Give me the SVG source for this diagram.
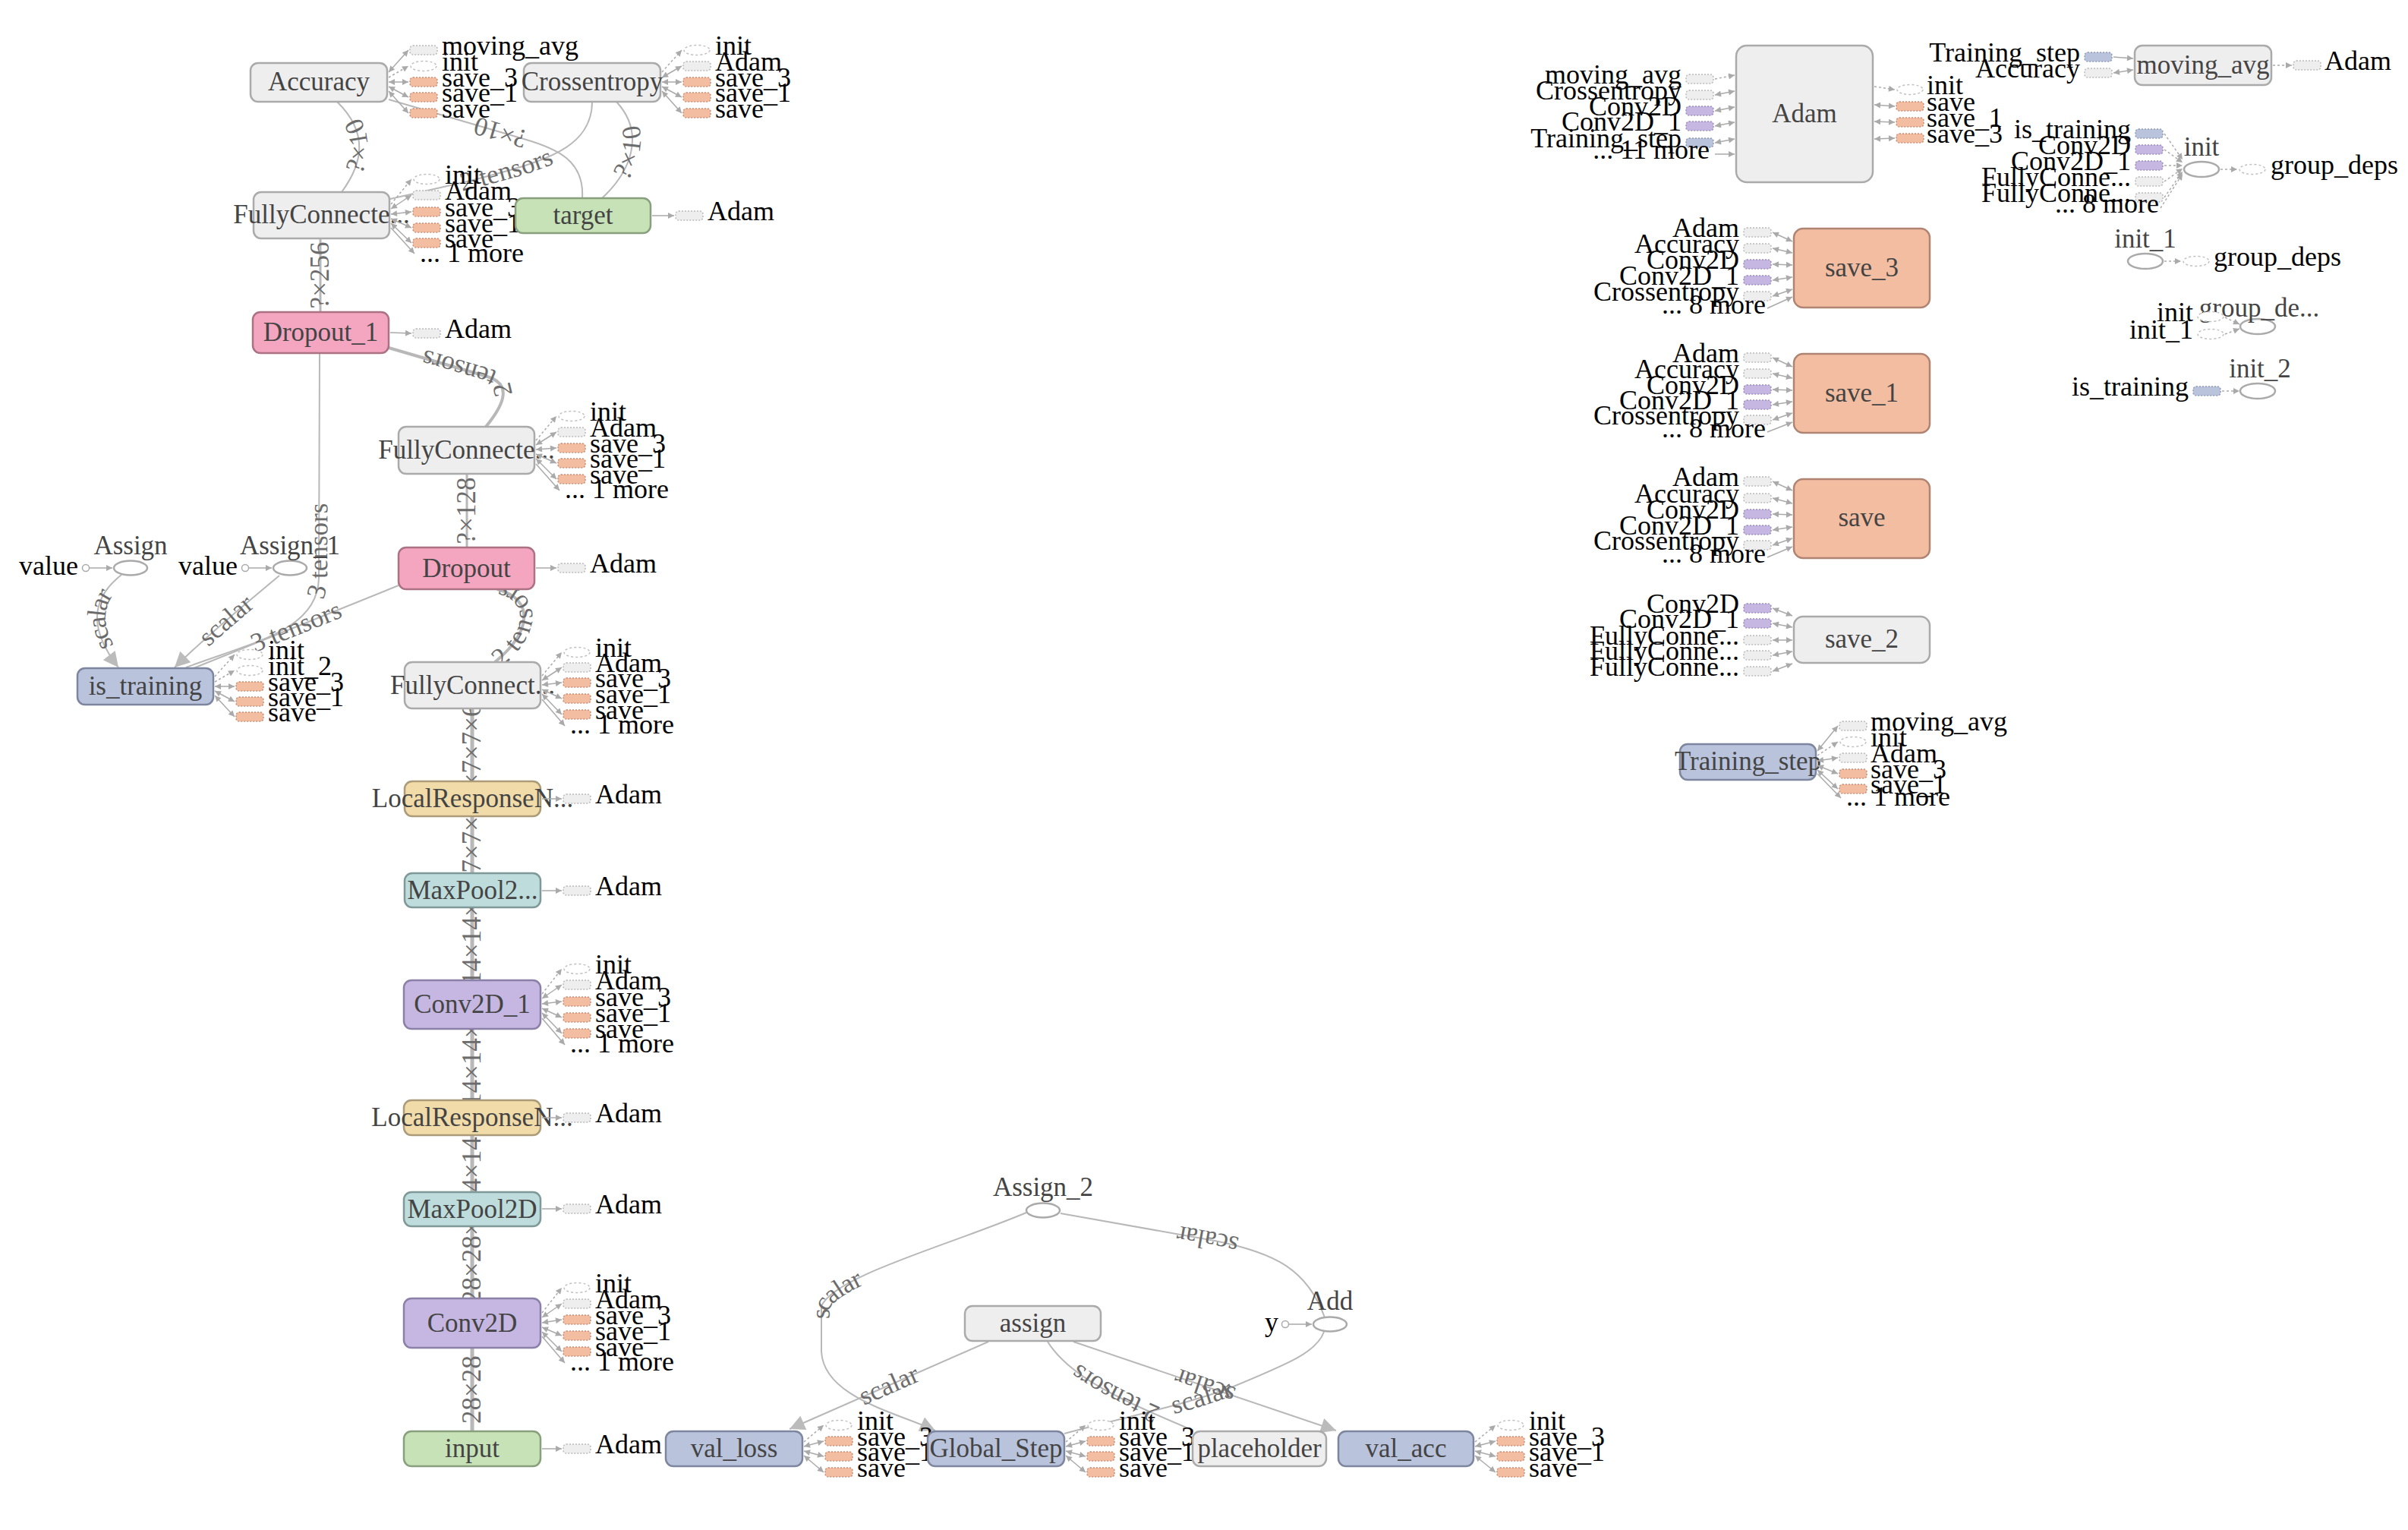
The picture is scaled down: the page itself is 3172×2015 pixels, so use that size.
<svg xmlns="http://www.w3.org/2000/svg" width="3172" height="2015" viewBox="0 0 3172 2015">
<style>
text{font-family:"Liberation Serif","Times New Roman",serif}
.nl{font-size:35px;fill:#444;text-anchor:middle}
.a{font-size:36px;fill:#000}
.ar{font-size:36px;fill:#000;text-anchor:end}
.el{font-size:35px;fill:#6c6c6c;text-anchor:middle}
.nd{stroke-width:2.5}
.g{fill:#eee;stroke:#aaa}
.pk{fill:#f4a6c1;stroke:#aa7282}
.bl{fill:#b9c3dc;stroke:#7d869e}
.gr{fill:#c6e2b6;stroke:#88a07d}
.yl{fill:#f0dba9;stroke:#ab9b78}
.tl{fill:#bddcdb;stroke:#7f9998}
.pu{fill:#c5b7e1;stroke:#8b80a7}
.or{fill:#f3bda1;stroke:#b08473}
.ov{fill:#fff;stroke:#aaa;stroke-width:2.5}
.e{fill:none;stroke:#b8b8b8;stroke-width:2}
.e3{stroke-width:3}
.e4{stroke-width:4}
.e5{stroke-width:5}
.rs{marker-start:url(#B)}
.l{stroke:#aaa;stroke-width:1.5;fill:none}
.lb{marker-start:url(#s);marker-end:url(#s)}
.lo{marker-end:url(#s)}
.ld{stroke-dasharray:3 3;marker-end:url(#s)}
.ag{fill:#eee;stroke:#bbb;stroke-width:1.5;stroke-dasharray:2 2}
.ao{fill:#f3bda1;stroke:#c99079;stroke-width:1.5;stroke-dasharray:2 2}
.ap{fill:#c5b7e1;stroke:#9d90c0;stroke-width:1.5;stroke-dasharray:2 2}
.ab{fill:#b9c3dc;stroke:#929cb5;stroke-width:1.5;stroke-dasharray:2 2}
.ae{fill:#fff;stroke:#c0c0c0;stroke-width:1.5;stroke-dasharray:3 3}
</style>
<defs>
<marker id="s" viewBox="0 0 10 10" refX="10" refY="5" markerWidth="9" markerHeight="8" markerUnits="userSpaceOnUse" orient="auto-start-reverse"><path d="M0,0L10,5L0,10z" fill="#aaa"/></marker>
<marker id="B" viewBox="0 0 10 10" refX="10" refY="5" markerWidth="24" markerHeight="20" markerUnits="userSpaceOnUse" orient="auto-start-reverse"><path d="M0,0L10,5L0,10z" fill="#bbb"/></marker>
<rect id="rg" class="ag" width="36" height="12" rx="4"/>
<rect id="ro" class="ao" width="36" height="12" rx="4"/>
<rect id="rp" class="ap" width="36" height="12" rx="4"/>
<rect id="rb" class="ab" width="36" height="12" rx="4"/>
<ellipse id="re" class="ae" cx="18" cy="6" rx="17" ry="6.5"/>
</defs>
<rect width="3172" height="2015" fill="#fff"/>

<g id="edges">
<path id="c1" class="e e5" d="M622,1925L622,1735"/>
<path id="c2" class="e e5" d="M622,1750L622,1575"/>
<path id="c3" class="e e5" d="M622,1610L622,1455"/>
<path id="c4" class="e e5" d="M622,1490L622,1315"/>
<path id="c5" class="e e5" d="M622,1330L622,1155"/>
<path id="c6" class="e e5" d="M622,1190L622,1035"/>
<path id="c7" class="e e5" d="M622,1069L622,894"/>
<path id="e1" class="e" d="M450,253C478,215 486,175 444,134"/>
<path id="e2" class="e" d="M767,261C770,212 735,196 690,183L512,131"/>
<path id="e3" class="e" d="M514,262L620,238C705,215 780,200 780,134"/>
<path id="e4" class="e" d="M793,261C832,225 850,175 812,134"/>
<path id="e5" class="e e3" d="M422,411L422,314"/>
<path id="e6" class="e e4" d="M640,562C668,528 672,505 642,496L512,458"/>
<path id="e7" class="e e3" d="M615,721L615,624"/>
<path id="e8" class="e e4" d="M652,872C700,832 705,790 655,776"/>
<path id="e9" class="e" d="M245,879C335,845 420,830 420,760L421,465"/>
<path id="e10" class="e" d="M255,880L525,771"/>
<path id="e11" class="e rs" d="M156,879C118,830 118,790 160,757"/>
<path id="e12" class="e rs" d="M230,879C280,830 330,790 368,758"/>
<path id="b1" class="e rs" d="M1232,1884C1180,1860 1085,1840 1082,1780L1082,1720C1100,1680 1250,1640 1352,1597"/>
<path id="b2" class="e" d="M1745,1735C1722,1672 1680,1650 1600,1634L1397,1598"/>
<path id="b3" class="e" d="M1402,1888C1500,1862 1560,1850 1620,1828C1700,1795 1735,1780 1744,1754"/>
<path id="b4" class="e rs" d="M1040,1882L1302,1767"/>
<path id="b5" class="e rs" d="M1760,1884L1414,1767"/>
<path id="b6" class="e" d="M1572,1884C1480,1845 1410,1815 1380,1767"/>
<text class="el" dy="11"><textPath href="#c1" startOffset="50%">28×28</textPath></text>
<text class="el" dy="11"><textPath href="#c2" startOffset="50%">?×28×28×32</textPath></text>
<text class="el" dy="11"><textPath href="#c3" startOffset="50%">?×14×14×32</textPath></text>
<text class="el" dy="11"><textPath href="#c4" startOffset="50%">?×14×14×32</textPath></text>
<text class="el" dy="11"><textPath href="#c5" startOffset="50%">?×14×14×64</textPath></text>
<text class="el" dy="11"><textPath href="#c6" startOffset="50%">?×7×7×64</textPath></text>
<text class="el" dy="11"><textPath href="#c7" startOffset="50%">?×7×7×64</textPath></text>
<text class="el" dy="11"><textPath href="#e1" startOffset="50%">?×10</textPath></text>
<text class="el" dy="11"><textPath href="#e2" startOffset="50%">?×10</textPath></text>
<text class="el" dy="11"><textPath href="#e3" startOffset="50%">2 tensors</textPath></text>
<text class="el" dy="11"><textPath href="#e4" startOffset="50%">?×10</textPath></text>
<text class="el" dy="11"><textPath href="#e5" startOffset="50%">?×256</textPath></text>
<text class="el" dy="11"><textPath href="#e6" startOffset="50%">2 tensors</textPath></text>
<text class="el" dy="11"><textPath href="#e7" startOffset="50%">?×128</textPath></text>
<text class="el" dy="11"><textPath href="#e8" startOffset="50%">2 tensors</textPath></text>
<text class="el" dy="11"><textPath href="#e9" startOffset="50%">3 tensors</textPath></text>
<text class="el" dy="11"><textPath href="#e10" startOffset="50%">3 tensors</textPath></text>
<text class="el" dy="11"><textPath href="#e11" startOffset="50%">scalar</textPath></text>
<text class="el" dy="11"><textPath href="#e12" startOffset="50%">scalar</textPath></text>
<text class="el" dy="11"><textPath href="#b1" startOffset="50%">scalar</textPath></text>
<text class="el" dy="11"><textPath href="#b2" startOffset="50%">scalar</textPath></text>
<text class="el" dy="11"><textPath href="#b3" startOffset="50%">scalar</textPath></text>
<text class="el" dy="11"><textPath href="#b4" startOffset="50%">scalar</textPath></text>
<text class="el" dy="11"><textPath href="#b5" startOffset="50%">scalar</textPath></text>
<text class="el" dy="11"><textPath href="#b6" startOffset="50%">2 tensors</textPath></text>
</g>

<g id="n-accuracy">
<rect class="nd g" x="330" y="83" width="180" height="51" rx="10"/>
<text class="nl" x="420" y="119">Accuracy</text>
<line class="l lb" x1="512" y1="95" x2="538" y2="66"/>
<line class="l ld" x1="512" y1="102" x2="538" y2="87"/>
<line class="l lb" x1="512" y1="108" x2="538" y2="108"/>
<line class="l lb" x1="512" y1="114" x2="538" y2="128"/>
<line class="l lb" x1="512" y1="120" x2="538" y2="149"/>
<use href="#rg" x="540" y="60"/><use href="#re" x="540" y="81"/><use href="#ro" x="540" y="102"/><use href="#ro" x="540" y="122"/><use href="#ro" x="540" y="143"/>
<text class="a" x="582" y="72">moving_avg</text><text class="a" x="582" y="93">init</text><text class="a" x="582" y="114">save_3</text><text class="a" x="582" y="134">save_1</text><text class="a" x="582" y="155">save</text>
</g>

<g id="n-crossentropy">
<rect class="nd g" x="690" y="83" width="180" height="51" rx="10"/>
<text class="nl" x="780" y="119">Crossentropy</text>
<line class="l ld" x1="872" y1="95" x2="898" y2="66"/>
<line class="l lb" x1="872" y1="102" x2="898" y2="87"/>
<line class="l lb" x1="872" y1="108" x2="898" y2="108"/>
<line class="l lb" x1="872" y1="114" x2="898" y2="128"/>
<line class="l lb" x1="872" y1="120" x2="898" y2="149"/>
<use href="#re" x="900" y="60"/><use href="#rg" x="900" y="81"/><use href="#ro" x="900" y="102"/><use href="#ro" x="900" y="122"/><use href="#ro" x="900" y="143"/>
<text class="a" x="942" y="72">init</text><text class="a" x="942" y="93">Adam</text><text class="a" x="942" y="114">save_3</text><text class="a" x="942" y="134">save_1</text><text class="a" x="942" y="155">save</text>
</g>

<g id="n-fc-top">
<rect class="nd g" x="334" y="253" width="179" height="61" rx="10"/>
<text class="nl" x="423.5" y="294">FullyConnecte...</text>
<line class="l ld" x1="515" y1="269" x2="542" y2="236"/>
<line class="l lb" x1="515" y1="275" x2="542" y2="257"/>
<line class="l lb" x1="515" y1="282" x2="542" y2="279"/>
<line class="l lb" x1="515" y1="288" x2="542" y2="300"/>
<line class="l lb" x1="515" y1="294" x2="542" y2="320"/>
<line class="l lo" x1="515" y1="300" x2="546" y2="334"/>
<use href="#re" x="544" y="230"/><use href="#rg" x="544" y="251"/><use href="#ro" x="544" y="273"/><use href="#ro" x="544" y="294"/><use href="#ro" x="544" y="314"/>
<text class="a" x="586" y="242">init</text><text class="a" x="586" y="263">Adam</text><text class="a" x="586" y="285">save_3</text><text class="a" x="586" y="306">save_1</text><text class="a" x="586" y="326">save</text><text class="a" x="553" y="345">... 1 more</text>
</g>

<g id="n-target">
<rect class="nd gr" x="679" y="261" width="178" height="46" rx="10"/>
<text class="nl" x="768" y="295">target</text>
<line class="l lo" x1="859" y1="284" x2="888" y2="284"/>
<use href="#rg" x="890" y="278"/>
<text class="a" x="932" y="290">Adam</text>
</g>

<g id="n-dropout-1">
<rect class="nd pk" x="333" y="411" width="179" height="54" rx="10"/>
<text class="nl" x="422.5" y="449">Dropout_1</text>
<line class="l lo" x1="514" y1="438" x2="542" y2="439"/>
<use href="#rg" x="544" y="433"/>
<text class="a" x="586" y="445">Adam</text>
</g>

<g id="n-fc2">
<rect class="nd g" x="525" y="562" width="179" height="62" rx="10"/>
<text class="nl" x="614.5" y="604">FullyConnecte...</text>
<line class="l ld" x1="706" y1="580" x2="733" y2="548"/>
<line class="l lb" x1="706" y1="586" x2="733" y2="569"/>
<line class="l lb" x1="706" y1="592" x2="733" y2="590"/>
<line class="l lb" x1="706" y1="598" x2="733" y2="610"/>
<line class="l lb" x1="706" y1="604" x2="733" y2="631"/>
<line class="l lo" x1="706" y1="611" x2="737" y2="646"/>
<use href="#re" x="735" y="542"/><use href="#rg" x="735" y="563"/><use href="#ro" x="735" y="584"/><use href="#ro" x="735" y="604"/><use href="#ro" x="735" y="625"/>
<text class="a" x="777" y="554">init</text><text class="a" x="777" y="575">Adam</text><text class="a" x="777" y="596">save_3</text><text class="a" x="777" y="616">save_1</text><text class="a" x="777" y="637">save</text><text class="a" x="744" y="656">... 1 more</text>
</g>

<g id="n-dropout">
<rect class="nd pk" x="525" y="721" width="179" height="55" rx="10"/>
<text class="nl" x="614.5" y="760">Dropout</text>
<line class="l lo" x1="706" y1="748" x2="733" y2="748"/>
<use href="#rg" x="735" y="742"/>
<text class="a" x="777" y="754">Adam</text>
</g>

<g id="n-assign">
<ellipse class="ov" cx="172" cy="748" rx="22" ry="9.5"/>
<text class="nl" x="172" y="730">Assign</text>
<circle class="ov" cx="113" cy="748" r="4.5" style="stroke-width:1.5"/>
<line class="l lo" x1="118" y1="748" x2="148" y2="748"/>
<text class="ar" x="103" y="757">value</text>
</g>

<g id="n-assign-1">
<ellipse class="ov" cx="382" cy="748" rx="22" ry="9.5"/>
<text class="nl" x="382" y="730">Assign_1</text>
<circle class="ov" cx="323" cy="748" r="4.5" style="stroke-width:1.5"/>
<line class="l lo" x1="328" y1="748" x2="358" y2="748"/>
<text class="ar" x="313" y="757">value</text>
</g>

<g id="n-is-training">
<rect class="nd bl" x="102" y="880" width="179" height="48" rx="10"/>
<text class="nl" x="191.5" y="915">is_training</text>
<line class="l ld" x1="283" y1="891" x2="309" y2="862"/>
<line class="l ld" x1="283" y1="898" x2="309" y2="883"/>
<line class="l lb" x1="283" y1="904" x2="309" y2="904"/>
<line class="l lb" x1="283" y1="910" x2="309" y2="924"/>
<line class="l lb" x1="283" y1="916" x2="309" y2="944"/>
<use href="#re" x="311" y="856"/><use href="#re" x="311" y="877"/><use href="#ro" x="311" y="898"/><use href="#ro" x="311" y="918"/><use href="#ro" x="311" y="938"/>
<text class="a" x="353" y="868">init</text><text class="a" x="353" y="889">init_2</text><text class="a" x="353" y="910">save_3</text><text class="a" x="353" y="930">save_1</text><text class="a" x="353" y="950">save</text>
</g>

<g id="n-fc3">
<rect class="nd g" x="533" y="872" width="179" height="61" rx="10"/>
<text class="nl" x="622.5" y="914">FullyConnect...</text>
<line class="l ld" x1="714" y1="890" x2="740" y2="859"/>
<line class="l lb" x1="714" y1="896" x2="740" y2="879"/>
<line class="l lb" x1="714" y1="902" x2="740" y2="899"/>
<line class="l lb" x1="714" y1="908" x2="740" y2="920"/>
<line class="l lb" x1="714" y1="914" x2="740" y2="941"/>
<line class="l lo" x1="714" y1="921" x2="744" y2="956"/>
<use href="#re" x="742" y="853"/><use href="#rg" x="742" y="873"/><use href="#ro" x="742" y="893"/><use href="#ro" x="742" y="914"/><use href="#ro" x="742" y="935"/>
<text class="a" x="784" y="865">init</text><text class="a" x="784" y="885">Adam</text><text class="a" x="784" y="905">save_3</text><text class="a" x="784" y="926">save_1</text><text class="a" x="784" y="947">save</text><text class="a" x="751" y="966">... 1 more</text>
</g>

<g id="n-lrn1">
<rect class="nd yl" x="533" y="1029" width="179" height="46" rx="10"/>
<text class="nl" x="622.5" y="1063">LocalResponseN...</text>
<line class="l lo" x1="714" y1="1052" x2="740" y2="1052"/>
<use href="#rg" x="742" y="1046"/>
<text class="a" x="784" y="1058">Adam</text>
</g>

<g id="n-maxpool1">
<rect class="nd tl" x="533" y="1150" width="179" height="45" rx="10"/>
<text class="nl" x="622.5" y="1184">MaxPool2...</text>
<line class="l lo" x1="714" y1="1173" x2="740" y2="1173"/>
<use href="#rg" x="742" y="1167"/>
<text class="a" x="784" y="1179">Adam</text>
</g>

<g id="n-conv2d-1">
<rect class="nd pu" x="532" y="1291" width="180" height="64" rx="10"/>
<text class="nl" x="622" y="1334">Conv2D_1</text>
<line class="l ld" x1="714" y1="1309" x2="740" y2="1276"/>
<line class="l lb" x1="714" y1="1315" x2="740" y2="1297"/>
<line class="l lb" x1="714" y1="1322" x2="740" y2="1319"/>
<line class="l lb" x1="714" y1="1328" x2="740" y2="1340"/>
<line class="l lb" x1="714" y1="1334" x2="740" y2="1361"/>
<line class="l lo" x1="714" y1="1341" x2="744" y2="1376"/>
<use href="#re" x="742" y="1270"/><use href="#rg" x="742" y="1291"/><use href="#ro" x="742" y="1313"/><use href="#ro" x="742" y="1334"/><use href="#ro" x="742" y="1355"/>
<text class="a" x="784" y="1282">init</text><text class="a" x="784" y="1303">Adam</text><text class="a" x="784" y="1325">save_3</text><text class="a" x="784" y="1346">save_1</text><text class="a" x="784" y="1367">save</text><text class="a" x="751" y="1386">... 1 more</text>
</g>

<g id="n-lrn2">
<rect class="nd yl" x="532" y="1449" width="180" height="46" rx="10"/>
<text class="nl" x="622" y="1483">LocalResponseN...</text>
<line class="l lo" x1="714" y1="1472" x2="740" y2="1472"/>
<use href="#rg" x="742" y="1466"/>
<text class="a" x="784" y="1478">Adam</text>
</g>

<g id="n-maxpool2d">
<rect class="nd tl" x="532" y="1570" width="180" height="45" rx="10"/>
<text class="nl" x="622" y="1604">MaxPool2D</text>
<line class="l lo" x1="714" y1="1592" x2="740" y2="1592"/>
<use href="#rg" x="742" y="1586"/>
<text class="a" x="784" y="1598">Adam</text>
</g>

<g id="n-conv2d">
<rect class="nd pu" x="532" y="1710" width="180" height="65" rx="10"/>
<text class="nl" x="622" y="1754">Conv2D</text>
<line class="l ld" x1="714" y1="1729" x2="740" y2="1696"/>
<line class="l lb" x1="714" y1="1735" x2="740" y2="1717"/>
<line class="l lb" x1="714" y1="1742" x2="740" y2="1738"/>
<line class="l lb" x1="714" y1="1748" x2="740" y2="1759"/>
<line class="l lb" x1="714" y1="1754" x2="740" y2="1780"/>
<line class="l lo" x1="714" y1="1760" x2="744" y2="1795"/>
<use href="#re" x="742" y="1690"/><use href="#rg" x="742" y="1711"/><use href="#ro" x="742" y="1732"/><use href="#ro" x="742" y="1753"/><use href="#ro" x="742" y="1774"/>
<text class="a" x="784" y="1702">init</text><text class="a" x="784" y="1723">Adam</text><text class="a" x="784" y="1744">save_3</text><text class="a" x="784" y="1765">save_1</text><text class="a" x="784" y="1786">save</text><text class="a" x="751" y="1805">... 1 more</text>
</g>

<g id="n-input">
<rect class="nd gr" x="532" y="1885" width="180" height="46" rx="10"/>
<text class="nl" x="622" y="1919">input</text>
<line class="l lo" x1="714" y1="1908" x2="740" y2="1908"/>
<use href="#rg" x="742" y="1902"/>
<text class="a" x="784" y="1914">Adam</text>
</g>

<g id="n-val-loss">
<rect class="nd bl" x="877" y="1885" width="180" height="46" rx="10"/>
<text class="nl" x="967" y="1919">val_loss</text>
<line class="l ld" x1="1059" y1="1899" x2="1085" y2="1877"/>
<line class="l lb" x1="1059" y1="1905" x2="1085" y2="1898"/>
<line class="l lb" x1="1059" y1="1911" x2="1085" y2="1918"/>
<line class="l lb" x1="1059" y1="1917" x2="1085" y2="1939"/>
<use href="#re" x="1087" y="1871"/><use href="#ro" x="1087" y="1892"/><use href="#ro" x="1087" y="1912"/><use href="#ro" x="1087" y="1933"/>
<text class="a" x="1129" y="1883">init</text><text class="a" x="1129" y="1904">save_3</text><text class="a" x="1129" y="1924">save_1</text><text class="a" x="1129" y="1945">save</text>
</g>

<g id="n-global-step">
<rect class="nd bl" x="1222" y="1885" width="180" height="46" rx="10"/>
<text class="nl" x="1312" y="1919">Global_Step</text>
<line class="l ld" x1="1404" y1="1899" x2="1430" y2="1877"/>
<line class="l lb" x1="1404" y1="1905" x2="1430" y2="1898"/>
<line class="l lb" x1="1404" y1="1911" x2="1430" y2="1918"/>
<line class="l lb" x1="1404" y1="1917" x2="1430" y2="1939"/>
<use href="#re" x="1432" y="1871"/><use href="#ro" x="1432" y="1892"/><use href="#ro" x="1432" y="1912"/><use href="#ro" x="1432" y="1933"/>
<text class="a" x="1474" y="1883">init</text><text class="a" x="1474" y="1904">save_3</text><text class="a" x="1474" y="1924">save_1</text><text class="a" x="1474" y="1945">save</text>
</g>

<g id="n-placeholder">
<rect class="nd g" x="1571" y="1885" width="176" height="46" rx="10"/>
<text class="nl" x="1659" y="1919">placeholder</text>
</g>

<g id="n-val-acc">
<rect class="nd bl" x="1763" y="1885" width="178" height="46" rx="10"/>
<text class="nl" x="1852" y="1919">val_acc</text>
<line class="l ld" x1="1943" y1="1899" x2="1970" y2="1877"/>
<line class="l lb" x1="1943" y1="1905" x2="1970" y2="1898"/>
<line class="l lb" x1="1943" y1="1911" x2="1970" y2="1918"/>
<line class="l lb" x1="1943" y1="1917" x2="1970" y2="1939"/>
<use href="#re" x="1972" y="1871"/><use href="#ro" x="1972" y="1892"/><use href="#ro" x="1972" y="1912"/><use href="#ro" x="1972" y="1933"/>
<text class="a" x="2014" y="1883">init</text><text class="a" x="2014" y="1904">save_3</text><text class="a" x="2014" y="1924">save_1</text><text class="a" x="2014" y="1945">save</text>
</g>

<g id="n-assign-lc">
<rect class="nd g" x="1271" y="1720" width="179" height="46" rx="10"/>
<text class="nl" x="1360.5" y="1754">assign</text>
</g>

<g id="n-assign-2">
<ellipse class="ov" cx="1374" cy="1594" rx="22" ry="9.5"/>
<text class="nl" x="1374" y="1575">Assign_2</text>
</g>

<g id="n-add">
<ellipse class="ov" cx="1752" cy="1744" rx="22" ry="9.5"/>
<text class="nl" x="1752" y="1725">Add</text>
<circle class="ov" cx="1693" cy="1744" r="4.5" style="stroke-width:1.5"/>
<line class="l lo" x1="1698" y1="1744" x2="1728" y2="1744"/>
<text class="ar" x="1684" y="1753">y</text>
</g>

<g id="n-adam">
<rect class="nd g" x="2287" y="60" width="180" height="180" rx="14"/>
<text class="nl" x="2377" y="161">Adam</text>
<line class="l ld" x1="2259" y1="104" x2="2285" y2="99"/>
<line class="l lb" x1="2259" y1="125" x2="2285" y2="120"/>
<line class="l lb" x1="2259" y1="146" x2="2285" y2="141"/>
<line class="l lb" x1="2259" y1="166" x2="2285" y2="161"/>
<line class="l lb" x1="2259" y1="188" x2="2285" y2="183"/>
<line class="l lo" x1="2259" y1="203" x2="2285" y2="203"/>
<use href="#rg" x="2221" y="98"/><use href="#rg" x="2221" y="119"/><use href="#rp" x="2221" y="140"/><use href="#rp" x="2221" y="160"/><use href="#rb" x="2221" y="182"/>
<text class="ar" x="2215" y="110">moving_avg</text><text class="ar" x="2215" y="131">Crossentropy</text><text class="ar" x="2215" y="152">Conv2D</text><text class="ar" x="2215" y="172">Conv2D_1</text><text class="ar" x="2215" y="194">Training_step</text><text class="ar" x="2252" y="209">... 11 more</text>
<line class="l ld" x1="2469" y1="114" x2="2496" y2="118"/>
<line class="l lb" x1="2469" y1="138" x2="2496" y2="140"/>
<line class="l lb" x1="2469" y1="160" x2="2496" y2="161"/>
<line class="l lb" x1="2469" y1="183" x2="2496" y2="182"/>
<use href="#re" x="2498" y="112"/><use href="#ro" x="2498" y="134"/><use href="#ro" x="2498" y="155"/><use href="#ro" x="2498" y="176"/>
<text class="a" x="2538" y="124">init</text><text class="a" x="2538" y="146">save</text><text class="a" x="2538" y="167">save_1</text><text class="a" x="2538" y="188">save_3</text>
</g>

<g id="n-moving-avg">
<rect class="nd g" x="2812" y="60" width="180" height="52" rx="10"/>
<text class="nl" x="2902" y="97">moving_avg</text>
<line class="l lo" x1="2784" y1="75" x2="2810" y2="77"/>
<line class="l lb" x1="2784" y1="96" x2="2810" y2="92"/>
<use href="#rb" x="2746" y="69"/><use href="#rg" x="2746" y="90"/>
<text class="ar" x="2740" y="81">Training_step</text><text class="ar" x="2740" y="102">Accuracy</text>
<line class="l ld" x1="2994" y1="86" x2="3019" y2="86"/>
<use href="#rg" x="3021" y="80"/>
<text class="a" x="3062" y="92">Adam</text>
</g>

<g id="n-init">
<ellipse class="ov" cx="2900" cy="223" rx="23" ry="10"/>
<text class="nl" x="2900" y="205">init</text>
<line class="l ld" x1="2851" y1="176" x2="2875" y2="210"/>
<line class="l ld" x1="2851" y1="197" x2="2875" y2="214"/>
<line class="l ld" x1="2851" y1="218" x2="2875" y2="218"/>
<line class="l ld" x1="2851" y1="239" x2="2875" y2="222"/>
<line class="l ld" x1="2851" y1="260" x2="2875" y2="226"/>
<line class="l ld" x1="2846" y1="274" x2="2875" y2="229"/>
<use href="#rb" x="2813" y="170"/><use href="#rp" x="2813" y="191"/><use href="#rp" x="2813" y="212"/><use href="#rg" x="2813" y="233"/><use href="#rg" x="2813" y="254"/>
<text class="ar" x="2807" y="182">is_training</text><text class="ar" x="2807" y="203">Conv2D</text><text class="ar" x="2807" y="224">Conv2D_1</text><text class="ar" x="2807" y="245">FullyConne...</text><text class="ar" x="2807" y="266">FullyConne...</text><text class="ar" x="2844" y="280">... 8 more</text>
<line class="l ld" x1="2925" y1="223" x2="2947" y2="223"/>
<use href="#re" x="2949" y="217"/>
<text class="a" x="2991" y="229">group_deps</text>
</g>

<g id="n-init-1">
<ellipse class="ov" cx="2826" cy="344" rx="23" ry="10"/>
<text class="nl" x="2826" y="326">init_1</text>
<line class="l ld" x1="2851" y1="344" x2="2873" y2="344"/>
<use href="#re" x="2875" y="338"/>
<text class="a" x="2916" y="350">group_deps</text>
</g>

<g id="n-group-deps">
<ellipse class="ov" cx="2974" cy="430" rx="23" ry="10"/>
<text class="nl" x="2976" y="417">group_de...</text>
<line class="l ld" x1="2931" y1="418" x2="2950" y2="427"/>
<line class="l ld" x1="2931" y1="440" x2="2950" y2="433"/>
<use href="#re" x="2894" y="411"/><use href="#re" x="2894" y="434"/>
<text class="ar" x="2889" y="423">init</text><text class="ar" x="2889" y="446">init_1</text>
</g>

<g id="n-init-2">
<ellipse class="ov" cx="2974" cy="515" rx="23" ry="10"/>
<text class="nl" x="2977" y="497">init_2</text>
<line class="l ld" x1="2927" y1="515" x2="2950" y2="515"/>
<use href="#rb" x="2889" y="509"/>
<text class="ar" x="2883" y="521">is_training</text>
</g>

<g id="n-save-3">
<rect class="nd or" x="2363" y="301" width="179" height="104" rx="12"/>
<text class="nl" x="2452.5" y="364">save_3</text>
<line class="l lb" x1="2335" y1="306" x2="2361" y2="318"/>
<line class="l lb" x1="2335" y1="327" x2="2361" y2="333"/>
<line class="l lb" x1="2335" y1="348" x2="2361" y2="349"/>
<line class="l lb" x1="2335" y1="369" x2="2361" y2="365"/>
<line class="l lb" x1="2335" y1="390" x2="2361" y2="381"/>
<line class="l lo" x1="2328" y1="406" x2="2361" y2="391"/>
<use href="#rg" x="2297" y="300"/><use href="#rg" x="2297" y="321"/><use href="#rp" x="2297" y="342"/><use href="#rp" x="2297" y="363"/><use href="#rg" x="2297" y="384"/>
<text class="ar" x="2291" y="312">Adam</text><text class="ar" x="2291" y="333">Accuracy</text><text class="ar" x="2291" y="354">Conv2D</text><text class="ar" x="2291" y="375">Conv2D_1</text><text class="ar" x="2291" y="396">Crossentropy</text><text class="ar" x="2326" y="413">... 8 more</text>
</g>

<g id="n-save-1">
<rect class="nd or" x="2363" y="466" width="179" height="104" rx="12"/>
<text class="nl" x="2452.5" y="529">save_1</text>
<line class="l lb" x1="2335" y1="471" x2="2361" y2="483"/>
<line class="l lb" x1="2335" y1="492" x2="2361" y2="498"/>
<line class="l lb" x1="2335" y1="513" x2="2361" y2="514"/>
<line class="l lb" x1="2335" y1="533" x2="2361" y2="529"/>
<line class="l lb" x1="2335" y1="553" x2="2361" y2="544"/>
<line class="l lo" x1="2328" y1="569" x2="2361" y2="556"/>
<use href="#rg" x="2297" y="465"/><use href="#rg" x="2297" y="486"/><use href="#rp" x="2297" y="507"/><use href="#rp" x="2297" y="527"/><use href="#rg" x="2297" y="547"/>
<text class="ar" x="2291" y="477">Adam</text><text class="ar" x="2291" y="498">Accuracy</text><text class="ar" x="2291" y="519">Conv2D</text><text class="ar" x="2291" y="539">Conv2D_1</text><text class="ar" x="2291" y="559">Crossentropy</text><text class="ar" x="2326" y="576">... 8 more</text>
</g>

<g id="n-save">
<rect class="nd or" x="2363" y="631" width="179" height="104" rx="12"/>
<text class="nl" x="2452.5" y="693">save</text>
<line class="l lb" x1="2335" y1="634" x2="2361" y2="646"/>
<line class="l lb" x1="2335" y1="656" x2="2361" y2="663"/>
<line class="l lb" x1="2335" y1="677" x2="2361" y2="678"/>
<line class="l lb" x1="2335" y1="698" x2="2361" y2="694"/>
<line class="l lb" x1="2335" y1="718" x2="2361" y2="709"/>
<line class="l lo" x1="2328" y1="734" x2="2361" y2="720"/>
<use href="#rg" x="2297" y="628"/><use href="#rg" x="2297" y="650"/><use href="#rp" x="2297" y="671"/><use href="#rp" x="2297" y="692"/><use href="#rg" x="2297" y="712"/>
<text class="ar" x="2291" y="640">Adam</text><text class="ar" x="2291" y="662">Accuracy</text><text class="ar" x="2291" y="683">Conv2D</text><text class="ar" x="2291" y="704">Conv2D_1</text><text class="ar" x="2291" y="724">Crossentropy</text><text class="ar" x="2326" y="741">... 8 more</text>
</g>

<g id="n-save-2">
<rect class="nd g" x="2363" y="812" width="179" height="61" rx="12"/>
<text class="nl" x="2452.5" y="853">save_2</text>
<line class="l lb" x1="2335" y1="801" x2="2361" y2="811"/>
<line class="l lb" x1="2335" y1="821" x2="2361" y2="826"/>
<line class="l lb" x1="2335" y1="843" x2="2361" y2="843"/>
<line class="l lb" x1="2335" y1="863" x2="2361" y2="858"/>
<line class="l lb" x1="2335" y1="884" x2="2361" y2="874"/>
<use href="#rp" x="2297" y="795"/><use href="#rp" x="2297" y="815"/><use href="#rg" x="2297" y="837"/><use href="#rg" x="2297" y="857"/><use href="#rg" x="2297" y="878"/>
<text class="ar" x="2291" y="807">Conv2D</text><text class="ar" x="2291" y="827">Conv2D_1</text><text class="ar" x="2291" y="849">FullyConne...</text><text class="ar" x="2291" y="869">FullyConne...</text><text class="ar" x="2291" y="890">FullyConne...</text>
</g>

<g id="n-training-step">
<rect class="nd bl" x="2213" y="980" width="179" height="47" rx="10"/>
<text class="nl" x="2302.5" y="1014">Training_step</text>
<line class="l lb" x1="2394" y1="989" x2="2421" y2="956"/>
<line class="l ld" x1="2394" y1="995" x2="2421" y2="977"/>
<line class="l lb" x1="2394" y1="1002" x2="2421" y2="998"/>
<line class="l lb" x1="2394" y1="1008" x2="2421" y2="1019"/>
<line class="l lb" x1="2394" y1="1014" x2="2421" y2="1039"/>
<line class="l lo" x1="2394" y1="1019" x2="2425" y2="1051"/>
<use href="#rg" x="2423" y="950"/><use href="#re" x="2423" y="971"/><use href="#rg" x="2423" y="992"/><use href="#ro" x="2423" y="1013"/><use href="#ro" x="2423" y="1033"/>
<text class="a" x="2464" y="962">moving_avg</text><text class="a" x="2464" y="983">init</text><text class="a" x="2464" y="1004">Adam</text><text class="a" x="2464" y="1025">save_3</text><text class="a" x="2464" y="1045">save_1</text><text class="a" x="2432" y="1061">... 1 more</text>
</g>
</svg>
